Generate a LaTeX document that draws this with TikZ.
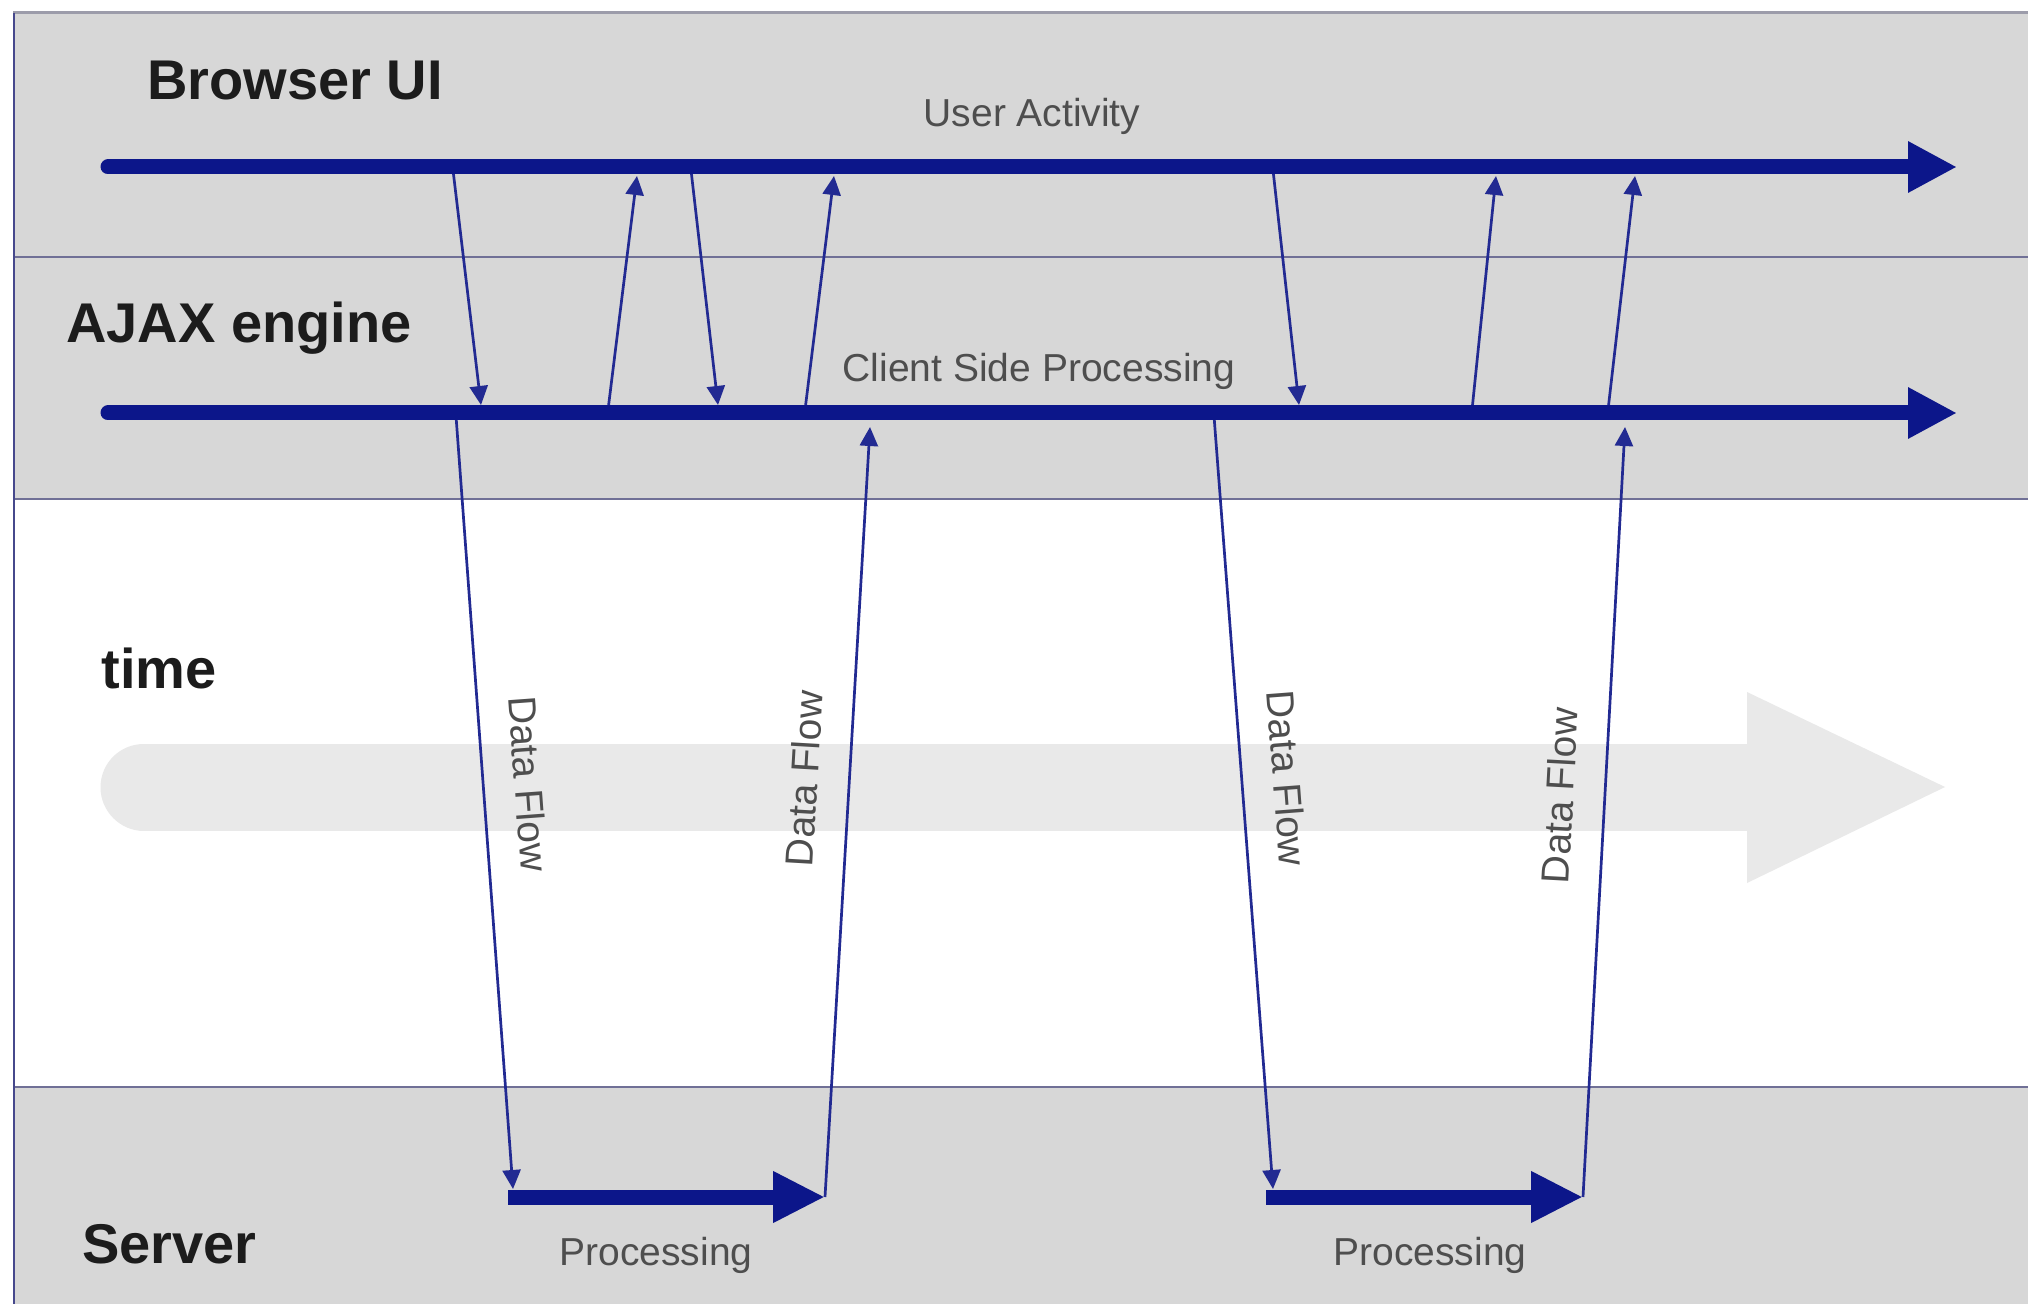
\documentclass[tikz,border=0pt]{standalone}
\usepackage{fontspec}
\setmainfont{Liberation Sans}
\usetikzlibrary{arrows.meta}

\definecolor{band}{RGB}{215,215,215}
\definecolor{navy}{RGB}{12,22,138}
\definecolor{thinnavy}{RGB}{34,42,146}
\definecolor{sepline}{RGB}{112,112,150}
\definecolor{frametop}{RGB}{156,156,170}
\definecolor{frameleft}{RGB}{70,72,140}
\definecolor{timegray}{RGB}{233,233,233}
\definecolor{titlecol}{RGB}{28,28,28}
\definecolor{labelcol}{RGB}{78,78,78}

\begin{document}
\begin{tikzpicture}[x=0.5pt,y=-0.5pt,
  timeline/.style={draw=navy, line width=7.5pt, line cap=round,
    -{Triangle[length=24.5pt,width=24pt]}},
  procline/.style={draw=navy, line width=7.5pt,
    -{Triangle[length=26pt,width=24pt]}},
  flow/.style={draw=thinnavy, line width=1.35pt,
    -{Triangle[length=9.5pt,width=9pt]}},
  lanetitle/.style={font=\fontsize{28}{30}\selectfont\bfseries,
    text=titlecol, inner sep=0pt, anchor=base west},
  tag/.style={font=\fontsize{19.5}{21}\selectfont, text=labelcol,
    inner sep=0pt, anchor=base},
  flowtag/.style={font=\fontsize{19.5}{21}\selectfont, text=labelcol,
    inner sep=0pt, text depth=0pt, sloped, above=15pt}
]
\useasboundingbox (0,0) rectangle (2028,1304);
\fill[white] (0,0) rectangle (2028,1304);

% swim lanes
\fill[band] (14,13) rectangle (2028,499);
\fill[white] (14,499) rectangle (2028,1087);
\fill[band] (14,1087) rectangle (2028,1304);
\draw[sepline, line width=1.1pt] (14,257) -- (2028,257);
\draw[sepline, line width=1.1pt] (14,499) -- (2028,499);
\draw[sepline, line width=1.3pt] (14,1087) -- (2028,1087);
\draw[frametop, line width=1.5pt] (13,13) -- (2028,13);
\draw[frameleft, line width=1.1pt] (14,13) -- (14,1304);

% faint time arrow in the background
\draw[timegray, line width=43.5pt, line cap=round] (144,787) -- (1750,787);
\fill[timegray] (1747,692) -- (1945,787) -- (1747,883) -- cycle;

% lane titles
\node[lanetitle] (ui)     at (147,100)  {Browser UI};
\node[lanetitle] (ajax)   at (66,343)   {AJAX engine};
\node[lanetitle] (time)   at (101,688)  {time};
\node[lanetitle] (server) at (82,1263)  {Server};

% timeline end points
\coordinate (uiS) at (108,167);  \coordinate (uiE) at (1957,167);
\coordinate (ajS) at (108,413);  \coordinate (ajE) at (1957,413);
\coordinate (sv1S) at (508,1197); \coordinate (sv1E) at (825,1197);
\coordinate (sv2S) at (1266,1197); \coordinate (sv2E) at (1583,1197);

% browser <-> engine exchanges
\coordinate (d1a) at (453,170);  \coordinate (d1b) at (481,405);
\coordinate (u2a) at (608,410);  \coordinate (u2b) at (637,176);
\coordinate (d3a) at (691,170);  \coordinate (d3b) at (718,405);
\coordinate (u4a) at (805,410);  \coordinate (u4b) at (834,176);
\coordinate (d5a) at (1273,170); \coordinate (d5b) at (1299,405);
\coordinate (u6a) at (1472,410); \coordinate (u6b) at (1496,176);
\coordinate (u7a) at (1608,410); \coordinate (u7b) at (1635,176);
\foreach \a/\b in {d1a/d1b,u2a/u2b,d3a/d3b,u4a/u4b,d5a/d5b,u6a/u6b,u7a/u7b}
  \draw[flow] (\a) -- (\b);

% engine <-> server data flow
\coordinate (f1a) at (456,416);  \coordinate (f1b) at (513,1189);
\coordinate (f2b) at (870,427);
\coordinate (f3a) at (1214,416); \coordinate (f3b) at (1273,1189);
\coordinate (f4b) at (1625,427);
\draw[flow] (f1a) -- node[flowtag, pos=0.48] (df1) {Data Flow} (f1b);
\draw[flow] (sv1E) -- node[flowtag, pos=0.54] (df2) {Data Flow} (f2b);
\draw[flow] (f3a) -- node[flowtag, pos=0.473] (df3) {Data Flow} (f3b);
\draw[flow] (sv2E) -- node[flowtag, pos=0.518] (df4) {Data Flow} (f4b);

% thick timelines
\draw[timeline] (uiS) -- (uiE);
\draw[timeline] (ajS) -- (ajE);
\draw[procline] (sv1S) -- (sv1E);
\draw[procline] (sv2S) -- (sv2E);

% timeline captions
\node[tag] (ua)    at (1032,127)  {User Activity};
\node[tag] (csp)   at (1039,382)  {Client Side Processing};
\node[tag] (proc1) at (656,1265)  {Processing};
\node[tag] (proc2) at (1430,1265) {Processing};
\end{tikzpicture}
\end{document}
